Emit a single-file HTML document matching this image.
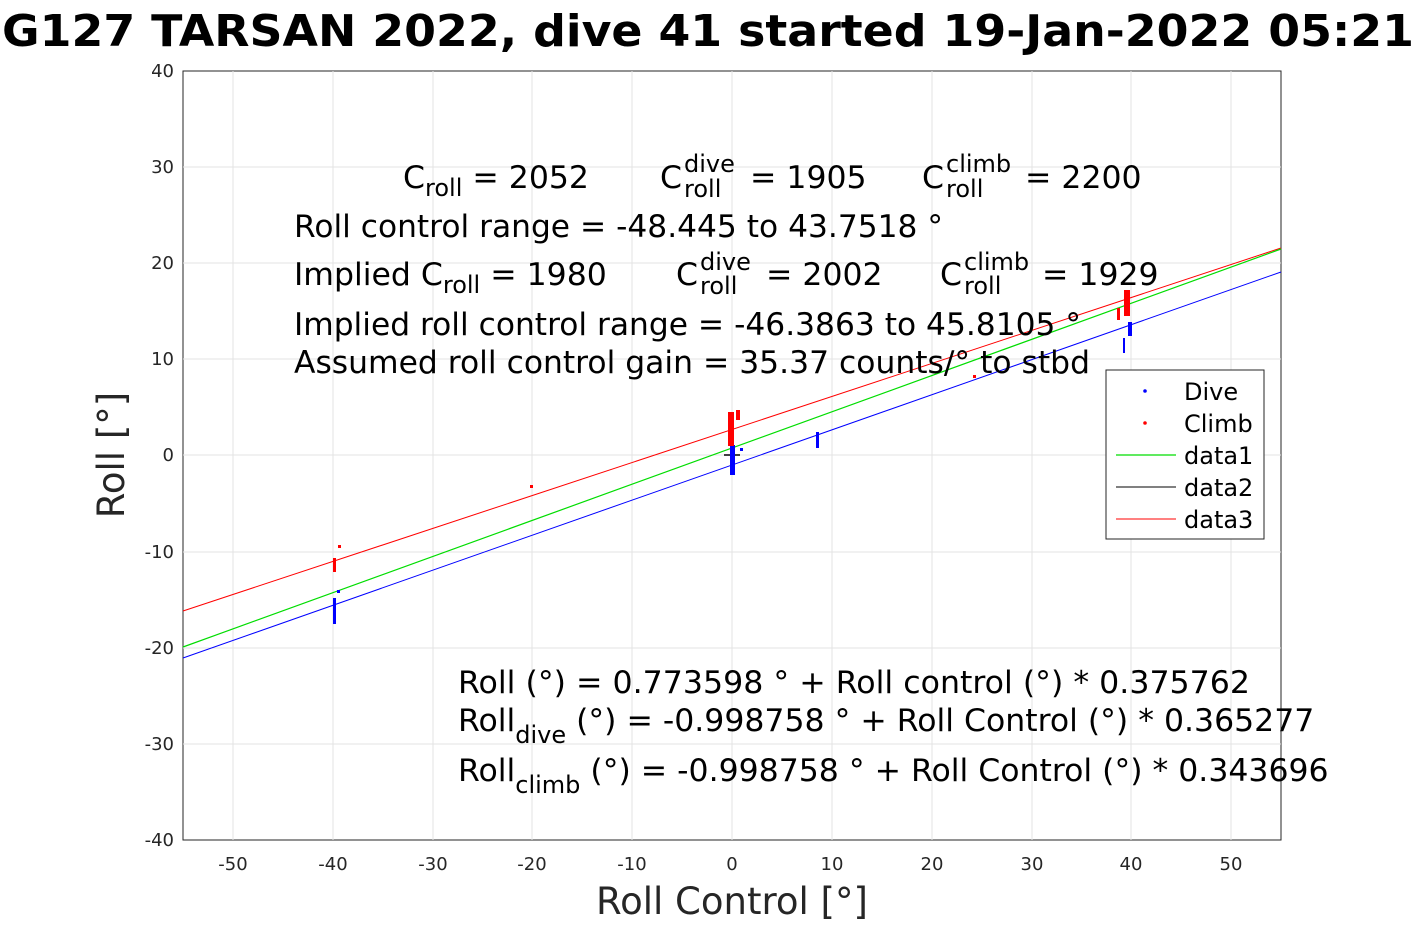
<!DOCTYPE html>
<html><head><meta charset="utf-8"><style>
body{margin:0;background:#fff;width:1417px;height:945px;overflow:hidden}
svg text{font-family:"DejaVu Sans","Liberation Sans",sans-serif}
</style></head><body>
<svg width="1417" height="945" viewBox="0 0 1417 945" xmlns="http://www.w3.org/2000/svg">
<rect width="1417" height="945" fill="#fff"/>
<text x="2" y="46" font-size="44" font-weight="bold" textLength="1412" lengthAdjust="spacingAndGlyphs">G127 TARSAN 2022, dive 41 started 19-Jan-2022 05:21</text>
<rect x="183" y="71" width="1098" height="769" fill="#fff" stroke="#262626" stroke-width="1"/>
<g stroke="#e3e3e3" stroke-width="1">
<line x1="233" y1="71" x2="233" y2="840"/><line x1="333" y1="71" x2="333" y2="840"/><line x1="433" y1="71" x2="433" y2="840"/><line x1="532" y1="71" x2="532" y2="840"/><line x1="632" y1="71" x2="632" y2="840"/><line x1="732" y1="71" x2="732" y2="840"/><line x1="832" y1="71" x2="832" y2="840"/><line x1="932" y1="71" x2="932" y2="840"/><line x1="1032" y1="71" x2="1032" y2="840"/><line x1="1131" y1="71" x2="1131" y2="840"/><line x1="1231" y1="71" x2="1231" y2="840"/>
<line x1="183" y1="167" x2="1281" y2="167"/><line x1="183" y1="263" x2="1281" y2="263"/><line x1="183" y1="359" x2="1281" y2="359"/><line x1="183" y1="455" x2="1281" y2="455"/><line x1="183" y1="552" x2="1281" y2="552"/><line x1="183" y1="648" x2="1281" y2="648"/><line x1="183" y1="744" x2="1281" y2="744"/>
</g>
<g font-size="18" fill="#262626" text-anchor="middle">
<text x="233" y="870">-50</text><text x="333" y="870">-40</text><text x="433" y="870">-30</text><text x="532" y="870">-20</text><text x="632" y="870">-10</text><text x="732" y="870">0</text><text x="832" y="870">10</text><text x="932" y="870">20</text><text x="1032" y="870">30</text><text x="1131" y="870">40</text><text x="1231" y="870">50</text>
</g>
<g font-size="18" fill="#262626" text-anchor="end">
<text x="174" y="77">40</text><text x="174" y="173">30</text><text x="174" y="269">20</text><text x="174" y="365">10</text><text x="174" y="461">0</text><text x="174" y="558">-10</text><text x="174" y="654">-20</text><text x="174" y="750">-30</text><text x="174" y="846">-40</text>
</g>
<text x="732" y="914" font-size="37" fill="#262626" text-anchor="middle">Roll Control [°]</text>
<text transform="translate(124,455) rotate(-90)" font-size="37" fill="#262626" text-anchor="middle">Roll [°]</text>
<line x1="183" y1="611" x2="1281" y2="248" stroke="#f00" stroke-width="1"/>
<line x1="183" y1="647" x2="1281" y2="249" stroke="#0d0" stroke-width="1.2"/>
<line x1="183" y1="658" x2="1281" y2="272" stroke="#00f" stroke-width="1"/>
<line x1="724" y1="455" x2="740" y2="455" stroke="#000" stroke-width="1.5"/>
<g fill="#00f">
<rect x="333" y="598" width="3" height="26"/><rect x="337" y="590" width="3" height="3"/><rect x="730" y="445" width="5" height="30"/><rect x="740" y="448" width="3" height="3"/><rect x="816" y="432" width="3" height="16"/><rect x="1128" y="322" width="4" height="14"/><rect x="1123" y="338" width="2" height="15"/>
</g>
<g fill="#f00">
<rect x="333" y="558" width="3" height="14"/><rect x="338" y="545" width="3" height="3"/><rect x="530" y="485" width="3" height="3"/><rect x="728" y="412" width="6" height="34"/><rect x="736" y="410" width="4" height="10"/><rect x="973" y="375" width="3" height="3"/><rect x="1124" y="290" width="6" height="26"/><rect x="1117" y="308" width="3" height="12"/>
</g>
<g font-size="31.5" fill="#000">
<text x="403" y="188">C<tspan font-size="24" dy="8">roll</tspan><tspan dy="-8"> = 2052</tspan></text>
<text x="660" y="188">C<tspan font-size="24" x="684" y="197">roll</tspan><tspan font-size="24" x="684" y="172">dive</tspan><tspan x="750" y="188">= 1905</tspan></text>
<text x="922" y="188">C<tspan font-size="24" x="946" y="197">roll</tspan><tspan font-size="24" x="946" y="172">climb</tspan><tspan x="1025" y="188">= 2200</tspan></text>
<text x="294" y="237" textLength="649" lengthAdjust="spacingAndGlyphs">Roll control range = -48.445 to 43.7518 °</text>
<text x="294" y="285">Implied C<tspan font-size="24" dy="8">roll</tspan><tspan dy="-8"> = 1980</tspan></text>
<text x="676" y="285">C<tspan font-size="24" x="700" y="294">roll</tspan><tspan font-size="24" x="700" y="270">dive</tspan><tspan x="766" y="285">= 2002</tspan></text>
<text x="940" y="285">C<tspan font-size="24" x="964" y="294">roll</tspan><tspan font-size="24" x="964" y="270">climb</tspan><tspan x="1042" y="285">= 1929</tspan></text>
<text x="294" y="335" textLength="787" lengthAdjust="spacingAndGlyphs">Implied roll control range = -46.3863 to 45.8105 °</text>
<text x="294" y="373" textLength="796" lengthAdjust="spacingAndGlyphs">Assumed roll control gain = 35.37 counts/° to stbd</text>
<text x="458" y="693" textLength="792" lengthAdjust="spacingAndGlyphs">Roll (°) = 0.773598 ° + Roll control (°) * 0.375762</text>
<text x="458" y="731">Roll<tspan font-size="24" dy="12">dive</tspan><tspan dy="-12"> (°) = -0.998758 ° + Roll Control (°) * 0.365277</tspan></text>
<text x="458" y="781">Roll<tspan font-size="24" dy="12">climb</tspan><tspan dy="-12"> (°) = -0.998758 ° + Roll Control (°) * 0.343696</tspan></text>
</g>
<rect x="1106" y="370" width="158" height="169" fill="#fff" stroke="#262626" stroke-width="1"/>
<g font-size="24" fill="#000">
<circle cx="1145" cy="391" r="1.8" fill="#00f"/><text x="1184" y="400">Dive</text>
<circle cx="1145" cy="423" r="1.8" fill="#f00"/><text x="1184" y="432">Climb</text>
<line x1="1116" y1="455" x2="1176" y2="455" stroke="#0d0" stroke-width="1.2"/><text x="1184" y="464">data1</text>
<line x1="1116" y1="487" x2="1176" y2="487" stroke="#000" stroke-width="1"/><text x="1184" y="496">data2</text>
<line x1="1116" y1="519" x2="1176" y2="519" stroke="#f00" stroke-width="1"/><text x="1184" y="528">data3</text>
</g>
</svg>
</body></html>
